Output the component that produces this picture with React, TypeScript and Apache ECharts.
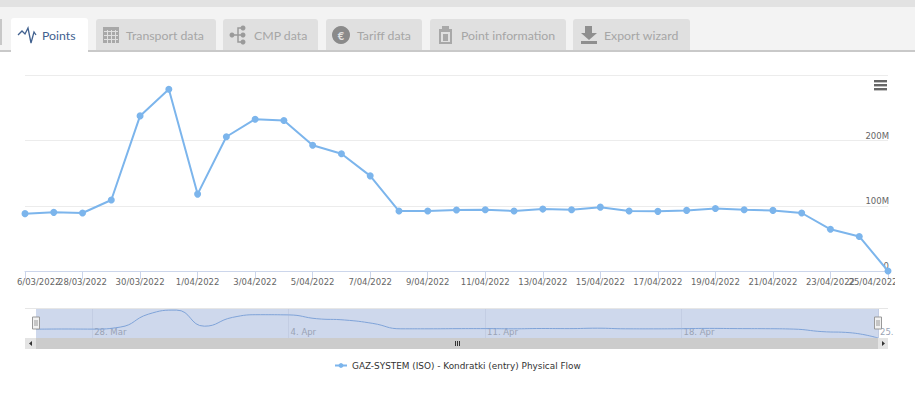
import React, { useEffect, useRef } from "react";
import * as echarts from "echarts";

const dates = [
  "26/03/2022","27/03/2022","28/03/2022","29/03/2022","30/03/2022","31/03/2022",
  "1/04/2022","2/04/2022","3/04/2022","4/04/2022","5/04/2022","6/04/2022","7/04/2022",
  "8/04/2022","9/04/2022","10/04/2022","11/04/2022","12/04/2022","13/04/2022","14/04/2022",
  "15/04/2022","16/04/2022","17/04/2022","18/04/2022","19/04/2022","20/04/2022","21/04/2022",
  "22/04/2022","23/04/2022","24/04/2022","25/04/2022",
];
const flow = [88,90,89,109,238,279,118,206,233,231,193,180,146,92,92,93.5,94,92,95,94,98,92,91.5,93,96,94,93,89,64,53,0];
const navLabels: Record<number, string> = { 2: "28. Mar", 9: "4. Apr", 16: "11. Apr", 23: "18. Apr", 30: "25. Apr" };
const seriesName = "GAZ-SYSTEM (ISO) - Kondratki (entry) Physical Flow";
const tabs = [
  { label: "Points", x: 11, w: 77, tx: 42, active: true },
  { label: "Transport data", x: 96, w: 120, tx: 126, active: false },
  { label: "CMP data", x: 223, w: 95, tx: 254, active: false },
  { label: "Tariff data", x: 326, w: 96, tx: 357, active: false },
  { label: "Point information", x: 430, w: 136, tx: 461, active: false },
  { label: "Export wizard", x: 573, w: 117, tx: 604, active: false },
];

const ICON = "#9a9a9a";
const LABEL_FONT = { fontFamily: "DejaVu Sans", fontSize: 8.5, color: "#666666" };

function chrome(): any[] {
  const r = (x: number, y: number, w: number, h: number, fill: string, z = 10) => ({
    type: "rect", z, shape: { x, y, width: w, height: h }, style: { fill },
  });
  const line = (pts: number[][], stroke = ICON, lw = 1.5, z = 12) => ({
    type: "polyline", z, shape: { points: pts }, style: { stroke, lineWidth: lw, fill: "none" },
  });
  const dot = (cx: number, cy: number, rad: number, fill = ICON, z = 12) => ({
    type: "circle", z, shape: { cx, cy, r: rad }, style: { fill },
  });
  const els: any[] = [
    r(0, 0, 915, 7, "#e2e2e2"),
    r(0, 7, 915, 44, "#f3f3f3"),
    r(0, 50, 915, 2, "#c9c9c9"),
    r(0, 19, 2, 26, "#c8c8c8"),
  ];
  tabs.forEach((t) => {
    els.push({
      type: "rect", z: 11,
      shape: { x: t.x, y: t.active ? 18 : 19, width: t.w, height: t.active ? 36 : 31, r: [3, 3, 0, 0] },
      style: { fill: t.active ? "#ffffff" : "#e0e0e0" },
    });
    els.push({
      type: "text", z: 12, x: t.tx, y: 35.5,
      style: {
        text: t.label, fontFamily: "Lato", fontSize: 12.3, fill: t.active ? "#41618f" : "#a6a6a6",
        verticalAlign: "middle", align: "left",
      },
    });
  });
  els.push(line([[18, 35], [22, 31], [25, 34], [28, 28], [31, 43], [34, 32], [36, 35]], "#41618f", 1.3));
  els.push(r(103, 27, 16, 16, "#a8a8a8", 12));
  [107, 111, 115].forEach((x) => els.push(r(x, 30, 1, 13, "#e0e0e0", 13)));
  [31, 35, 39].forEach((y) => els.push(r(104, y, 14, 1, "#e0e0e0", 13)));
  els.push(dot(232, 35, 2.5), dot(243, 28, 2.5), dot(243, 35, 2.5), dot(243, 42, 2.5));
  els.push(line([[232, 35], [243, 35]]), line([[243, 28], [238, 28], [238, 42], [243, 42]]));
  els.push(dot(341, 35, 9, "#8a8a8a"));
  els.push({ type: "text", z: 13, x: 341, y: 35, style: { text: "€", fontFamily: "Lato", fontSize: 11, fontWeight: "bold", fill: "#e0e0e0", align: "center", verticalAlign: "middle" } });
  els.push(r(439, 29, 13, 15, "#a8a8a8", 12), r(442, 26, 7, 4, "#a8a8a8", 12), r(441, 32, 9, 10, "#e0e0e0", 13), r(443, 34, 5, 7, "#a8a8a8", 14));
  els.push(r(585, 26, 7, 8, "#8f8f8f", 12), r(581, 41, 16, 3, "#8f8f8f", 12));
  els.push({ type: "polygon", z: 12, shape: { points: [[581, 33], [597, 33], [589, 40]] }, style: { fill: "#8f8f8f" } });
  [80, 84, 88].forEach((y) => els.push(r(874, y, 13, 2.4, "#666666", 12)));
  els.push(r(25, 308, 863, 1, "#e6e6e6", 1));
  els.push(r(25, 338, 863, 11, "#cccccc", 5));
  els.push(r(25, 338, 11, 11, "#e4e4e4", 6), r(878, 338, 10, 11, "#e4e4e4", 6));
  els.push({ type: "polygon", z: 7, shape: { points: [[32, 341], [32, 346], [29, 343.5]] }, style: { fill: "#333" } });
  els.push({ type: "polygon", z: 7, shape: { points: [[882, 341], [882, 346], [885, 343.5]] }, style: { fill: "#333" } });
  [455, 457, 459].forEach((x) => els.push(r(x, 341, 1, 5, "#333333", 7)));
  [36, 878].forEach((x) => {
    els.push({ type: "rect", z: 8, shape: { x: x - 3.5, y: 317, width: 7, height: 12 }, style: { fill: "#f2f2f2", stroke: "#999999", lineWidth: 1 } });
    els.push(r(x - 1.5, 320, 1, 6, "#999999", 9), r(x + 0.5, 320, 1, 6, "#999999", 9));
  });
  els.push(r(0, 273, 17, 22, "#ffffff", 20), r(895, 273, 20, 22, "#ffffff", 20));
  els.push(r(895, 322, 20, 18, "#ffffff", 20));
  return els;
}

export default function App() {
  const ref = useRef<HTMLDivElement>(null);
  useEffect(() => {
    document.body.style.margin = "0";
    const chart = echarts.init(ref.current!, undefined, { renderer: "svg" });
    chart.setOption({
      animation: false,
      backgroundColor: "#ffffff",
      grid: [
        { left: 25, right: 27, top: 75.5, height: 195.5 },
        { left: 36, width: 842, top: 308, height: 30, show: true, backgroundColor: "#ced8ec", borderWidth: 0 },
      ],
      legend: {
        data: [seriesName],
        left: 329,
        top: 356,
        itemWidth: 12,
        itemHeight: 6,
        itemGap: 4,
        textStyle: { fontFamily: "DejaVu Sans", fontSize: 8.9, color: "#333333", fontWeight: 500 },
      },
      xAxis: [
        {
          type: "category",
          gridIndex: 0,
          data: dates,
          boundaryGap: false,
          axisLine: { lineStyle: { color: "#ccd6eb", width: 1 } },
          axisTick: { interval: 1, length: 8, lineStyle: { color: "#ccd6eb" } },
          axisLabel: {
            interval: (i: number) => i % 2 === 0 && i !== 0 && i !== dates.length - 1,
            margin: 6.5,
            ...LABEL_FONT,
          },
          splitLine: { show: false },
        },
        {
          type: "category",
          gridIndex: 1,
          data: dates,
          boundaryGap: false,
          axisLine: { show: false },
          axisTick: { show: false },
          splitLine: {
            show: true,
            interval: (i: number) => (i - 2) % 7 === 0,
            lineStyle: { color: "#c3cde3", width: 1 },
          },
          axisLabel: {
            inside: true,
            interval: (i: number) => (i - 2) % 7 === 0,
            formatter: (_: string, i: number) => navLabels[i] ?? "",
            align: "left",
            margin: 2,
            padding: [0, 0, 0, 2],
            fontFamily: "DejaVu Sans",
            fontSize: 8.5,
            color: "#9aa3b5",
          },
        },
        {
          type: "category",
          gridIndex: 0,
          position: "bottom",
          data: dates,
          boundaryGap: false,
          axisLine: { show: false },
          axisTick: { show: false },
          splitLine: { show: false },
          axisLabel: {
            interval: (i: number) => i === 0 || i === dates.length - 1,
            margin: 6.5,
            showMinLabel: true,
            showMaxLabel: true,
            formatter: (v: string) => (v === dates[0] ? `{first|${v}}` : `{last|${v}}`),
            rich: {
              first: { ...LABEL_FONT, padding: [0, 0, 0, 22] },
              last: { ...LABEL_FONT, padding: [0, 30, 0, 0] },
            },
          },
        },
      ],
      yAxis: [
        {
          type: "value",
          gridIndex: 0,
          position: "right",
          min: 0,
          max: 300,
          interval: 100,
          axisLine: { show: false },
          axisTick: { show: false },
          splitLine: { lineStyle: { color: "#ececec", width: 1 } },
          axisLabel: {
            inside: true,
            margin: -1,
            verticalAlign: "bottom",
            showMaxLabel: false,
            ...LABEL_FONT,
            lineHeight: 10,
            formatter: (v: number) => (v === 0 ? "0" : v === 300 ? "" : `${v}M`),
          },
        },
        { type: "value", gridIndex: 1, min: 0, max: 300, show: false },
      ],
      series: [
        {
          name: seriesName,
          type: "line",
          xAxisIndex: 0,
          yAxisIndex: 0,
          data: flow,
          clip: false,
          symbol: "circle",
          symbolSize: 7,
          itemStyle: { color: "#7cb5ec" },
          lineStyle: { color: "#7cb5ec", width: 2 },
          z: 3,
        },
        {
          name: "navigator",
          type: "line",
          xAxisIndex: 1,
          yAxisIndex: 1,
          data: flow,
          smooth: 0.5,
          symbol: "none",
          silent: true,
          lineStyle: { color: "#7fa3d8", width: 1 },
          z: 2,
        },
      ],
      graphic: { elements: chrome() },
    });
    return () => chart.dispose();
  }, []);
  return <div ref={ref} style={{ width: 915, height: 416 }} />;
}
